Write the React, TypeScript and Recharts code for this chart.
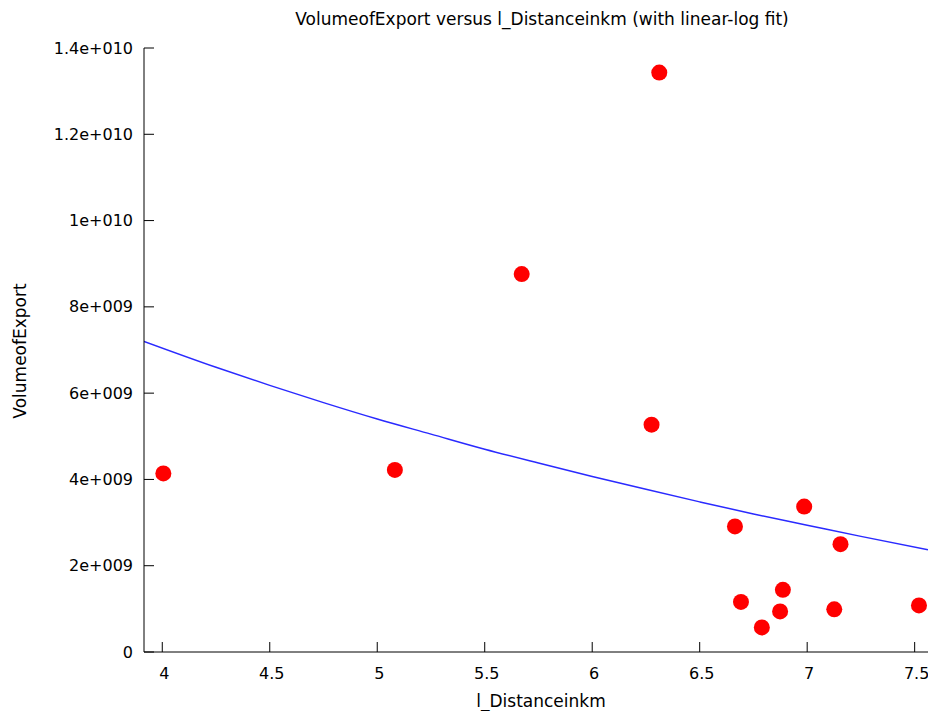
import { ComposedChart, XAxis, YAxis, Scatter, Line } from "recharts";

// observed points (l_Distanceinkm, VolumeofExport)
const distance = [4.005, 5.082, 5.672, 6.312, 6.276, 6.664, 6.692, 6.789, 6.874, 6.887, 6.986, 7.126, 7.155, 7.52];
const volume = [4.14e9, 4.22e9, 8.76e9, 13.43e9, 5.27e9, 2.91e9, 1.16e9, 0.57e9, 0.94e9, 1.44e9, 3.37e9, 0.99e9, 2.5e9, 1.08e9];

// linear-log fit curve
const fitX = [3.915, 4.25, 4.5, 4.75, 5.0, 5.25, 5.5, 5.75, 6.0, 6.25, 6.5, 6.75, 7.0, 7.25, 7.562];
const fitY = [7.2e9, 6.6e9, 6.18e9, 5.78e9, 5.4e9, 5.05e9, 4.7e9, 4.38e9, 4.07e9, 3.77e9, 3.48e9, 3.2e9, 2.94e9, 2.68e9, 2.37e9];

const xTicks = [4, 4.5, 5, 5.5, 6, 6.5, 7, 7.5];
const yTicks = [0, 2e9, 4e9, 6e9, 8e9, 1e10, 1.2e10, 1.4e10];
const yTickLabels = ["0", "2e+009", "4e+009", "6e+009", "8e+009", "1e+010", "1.2e+010", "1.4e+010"];

const points = distance.map((x, i) => ({ x, y: volume[i] }));
const fit = fitX.map((x, i) => ({ x, fit: fitY[i] }));

const FONT = "'DejaVu Sans', Verdana, sans-serif";
const W = 928;
const H = 711;
const LEFT = 144;
const TOP = 48;
const XAXIS_H = 59;
const BOTTOM = H - XAXIS_H;
const TICK = 10;

const Dot = (props: any) => (
  <circle cx={props.cx} cy={props.cy} r={8} fill="#ff0000" />
);

// ticks point into the plot, gnuplot style
const YTick = (props: any) => {
  const c = props.payload.coordinate;
  const label = yTickLabels[yTicks.indexOf(props.payload.value)];
  return (
    <g>
      <line x1={LEFT} x2={LEFT + TICK} y1={c} y2={c} stroke="#000" />
      <text x={LEFT - 11} y={c} dy="0.35em" textAnchor="end" fontSize={16} fill="#000">{label}</text>
    </g>
  );
};

const XTick = (props: any) => {
  const c = props.payload.coordinate;
  return (
    <g>
      <line x1={c} x2={c} y1={BOTTOM} y2={BOTTOM - TICK} stroke="#000" />
      <text x={c + 2} y={673} dy="0.35em" textAnchor="middle" fontSize={16} fill="#000">{props.payload.value}</text>
    </g>
  );
};

const TopTick = (props: any) => {
  const c = props.payload.coordinate;
  return <line x1={c} x2={c} y1={TOP} y2={TOP + TICK} stroke="#000" />;
};

export default function App() {
  return (
    <div style={{ position: "absolute", left: 0, top: 0, width: W, height: H, background: "#fff", fontFamily: FONT, overflow: "hidden" }}>
      <ComposedChart
        width={W}
        height={H}
        margin={{ top: TOP, right: 0, bottom: 0, left: 0 }}
        style={{ fontFamily: FONT }}
      >
        <XAxis
          xAxisId="top"
          orientation="top"
          type="number"
          dataKey="x"
          domain={[3.915, 7.562]}
          ticks={xTicks}
          height={0}
          tick={TopTick}
          tickLine={false}
          axisLine={{ stroke: "#000" }}
          allowDataOverflow
        />
        <XAxis
          type="number"
          dataKey="x"
          domain={[3.915, 7.562]}
          ticks={xTicks}
          height={XAXIS_H}
          tick={XTick}
          tickLine={false}
          axisLine={{ stroke: "#000" }}
          allowDataOverflow
        />
        <YAxis
          type="number"
          domain={[0, 1.4e10]}
          ticks={yTicks}
          width={LEFT}
          tick={YTick}
          tickLine={false}
          axisLine={{ stroke: "#000" }}
          allowDataOverflow
        />
        <Line
          data={fit}
          dataKey="fit"
          type="monotone"
          stroke="#2a2aff"
          strokeWidth={1.5}
          dot={false}
          activeDot={false}
          isAnimationActive={false}
        />
        <Scatter data={points} dataKey="y" shape={Dot} isAnimationActive={false} />
      </ComposedChart>
      <div style={{ position: "absolute", left: 0, width: 1084, top: 9, textAlign: "center", fontSize: 17, color: "#000", whiteSpace: "nowrap" }}>
        VolumeofExport versus l_Distanceinkm (with linear-log fit)
      </div>
      <div style={{ position: "absolute", left: 0, width: 1082, top: 691, textAlign: "center", fontSize: 17, color: "#000", whiteSpace: "nowrap" }}>
        l_Distanceinkm
      </div>
      <div style={{ position: "absolute", left: 20, top: 351, transform: "translate(-50%, -50%) rotate(-90deg)", fontSize: 17, color: "#000", whiteSpace: "nowrap" }}>
        VolumeofExport
      </div>
    </div>
  );
}
